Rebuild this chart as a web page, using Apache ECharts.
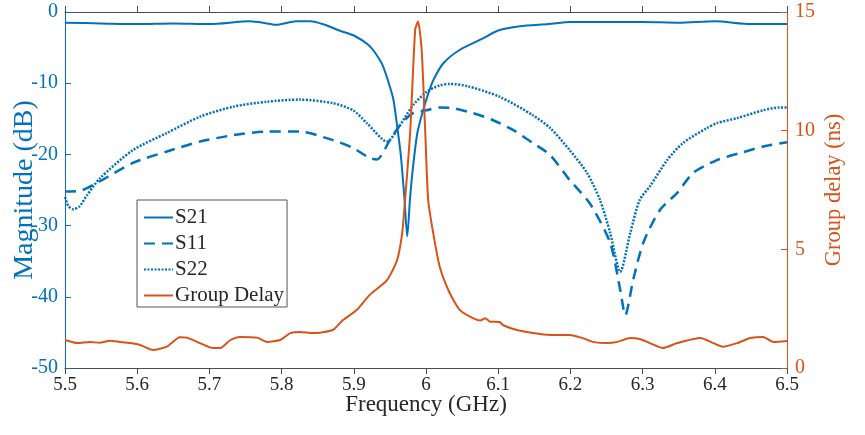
<!DOCTYPE html>
<html>
<head>
<meta charset="utf-8">
<script src="https://cdn.jsdelivr.net/npm/echarts@6/dist/echarts.min.js"></script>
<style>
  html, body { margin: 0; padding: 0; background: #fff; }
  #chart { width: 865px; height: 435px; }
</style>
</head>
<body>
<div id="chart"></div>
<script>
// S21 magnitude (dB)
const s21Freq = [5.50, 5.55, 5.60, 5.65, 5.70, 5.756, 5.78, 5.793, 5.82, 5.84, 5.86, 5.88, 5.90, 5.92, 5.93, 5.94, 5.95, 5.955, 5.96, 5.965, 5.97, 5.974, 5.978, 5.982, 5.988, 5.996, 6.003, 6.010, 6.024, 6.047, 6.079, 6.10, 6.13, 6.17, 6.20, 6.25, 6.30, 6.35, 6.40, 6.45, 6.50];
const s21Mag  = [-1.5, -1.6, -1.7, -1.6, -1.7, -1.3, -1.6, -1.8, -1.3, -1.3, -1.8, -2.6, -3.3, -4.6, -5.8, -7.5, -10.5, -12.4, -16, -20, -26, -31.5, -26, -21.8, -17, -13.8, -11.5, -9.6, -7.2, -5.3, -3.7, -2.6, -2.0, -1.7, -1.4, -1.4, -1.4, -1.5, -1.3, -1.7, -1.7];

// S11 magnitude (dB)
const s11Freq = [5.50, 5.521, 5.548, 5.594, 5.641, 5.687, 5.733, 5.78, 5.825, 5.871, 5.899, 5.922, 5.932, 5.95, 5.964, 5.982, 6.001, 6.019, 6.037, 6.065, 6.093, 6.121, 6.148, 6.172, 6.199, 6.227, 6.255, 6.269, 6.276, 6.287, 6.301, 6.324, 6.348, 6.37, 6.403, 6.439, 6.467, 6.50];
const s11Mag  = [-25.2, -25.1, -23.8, -21.2, -19.6, -18.2, -17.3, -16.8, -16.8, -18.0, -19.1, -20.5, -20.7, -18.0, -15.9, -14.2, -13.8, -13.4, -13.5, -14.2, -15.2, -16.6, -18.4, -20.1, -23.6, -26.9, -32.4, -39.0, -42.6, -37.6, -32.4, -27.8, -25.4, -22.6, -20.8, -19.7, -18.9, -18.3];

// S22 magnitude (dB)
const s22Freq = [5.50, 5.505, 5.512, 5.52, 5.53, 5.548, 5.594, 5.641, 5.687, 5.733, 5.78, 5.825, 5.871, 5.899, 5.918, 5.946, 5.964, 5.982, 6.001, 6.019, 6.033, 6.057, 6.102, 6.148, 6.172, 6.199, 6.223, 6.241, 6.255, 6.269, 6.283, 6.296, 6.31, 6.334, 6.356, 6.389, 6.403, 6.431, 6.467, 6.49, 6.50];
const s22Mag  = [-26.0, -27.3, -27.7, -27.3, -25.8, -23.4, -19.4, -17.0, -14.7, -13.3, -12.6, -12.3, -12.8, -13.8, -15.6, -18.2, -15.9, -13.1, -11.2, -10.3, -10.1, -10.4, -11.9, -14.5, -16.3, -19.4, -22.6, -26.4, -31.0, -36.5, -31.0, -26.4, -24.5, -20.8, -18.4, -16.3, -15.6, -14.9, -13.8, -13.4, -13.4];

// Group delay (ns)
const gdFreq = [5.50, 5.517, 5.535, 5.548, 5.562, 5.576, 5.59, 5.604, 5.622, 5.641, 5.659, 5.669, 5.687, 5.705, 5.715, 5.729, 5.742, 5.766, 5.78, 5.798, 5.812, 5.825, 5.843, 5.871, 5.885, 5.904, 5.922, 5.946, 5.96, 5.967, 5.971, 5.978, 5.985, 5.989, 5.994, 5.999, 6.003, 6.01, 6.019, 6.033, 6.047, 6.065, 6.075, 6.082, 6.089, 6.102, 6.107, 6.126, 6.148, 6.172, 6.199, 6.217, 6.231, 6.251, 6.265, 6.283, 6.296, 6.31, 6.328, 6.348, 6.38, 6.398, 6.411, 6.431, 6.449, 6.467, 6.481, 6.50];
const gdNs   = [1.18, 1.05, 1.10, 1.06, 1.15, 1.10, 1.05, 0.97, 0.76, 0.90, 1.30, 1.28, 1.05, 0.84, 0.84, 1.18, 1.31, 1.28, 1.10, 1.18, 1.47, 1.52, 1.47, 1.60, 2.02, 2.44, 3.08, 3.70, 4.55, 5.68, 7.08, 9.90, 14.26, 14.6, 13.4, 9.90, 7.08, 5.68, 4.27, 3.15, 2.44, 2.10, 2.00, 2.10, 1.95, 1.94, 1.80, 1.60, 1.47, 1.39, 1.39, 1.26, 1.10, 1.05, 1.10, 1.26, 1.22, 1.05, 0.84, 1.05, 1.26, 1.05, 0.90, 1.05, 1.26, 1.31, 1.10, 1.14];

const zip = (xs, ys) => xs.map((x, i) => [x, ys[i]]);

const BLUE = '#0072BD';
const ORANGE = '#D95319';
const DARK = '#262626';
const FONT = 'Liberation Serif';

const chart = echarts.init(document.getElementById('chart'), null, { renderer: 'canvas' });

chart.setOption({
  animation: false,
  backgroundColor: '#fff',
  grid: { left: 65, right: 78, top: 12, bottom: 67, containLabel: false, outerBoundsMode: 'none' },
  legend: {
    orient: 'vertical',
    left: 137,
    top: 200,
    data: ['S21', 'S11', 'S22', 'Group Delay'],
    backgroundColor: '#fff',
    borderColor: '#555',
    borderWidth: 1,
    padding: [7, 3, 1, 6],
    itemGap: 5,
    itemWidth: 29,
    itemHeight: 20,
    itemStyle: { opacity: 0 },
    textStyle: { fontFamily: FONT, fontSize: 21, color: DARK, padding: [0, 0, 0, -3] }
  },
  xAxis: [
    {
      type: 'value', min: 5.5, max: 6.5, interval: 0.1,
      name: 'Frequency (GHz)', nameLocation: 'middle', nameGap: 25, nameMoveOverlap: false,
      nameTextStyle: { fontFamily: FONT, fontSize: 23, color: DARK },
      axisLine: { lineStyle: { color: '#4d4d4d', width: 1 } },
      axisTick: { inside: true, length: 6, lineStyle: { color: '#4d4d4d' } },
      axisLabel: { fontFamily: FONT, fontSize: 19, color: DARK, margin: 8,
        formatter: v => String(Math.round(v * 10) / 10) },
      splitLine: { show: false }
    },
    {
      type: 'value', min: 5.5, max: 6.5, interval: 0.1, position: 'top',
      axisLine: { lineStyle: { color: '#4d4d4d', width: 1 } },
      axisTick: { inside: true, length: 6, lineStyle: { color: '#4d4d4d' } },
      axisLabel: { show: false },
      splitLine: { show: false }
    }
  ],
  yAxis: [
    {
      type: 'value', min: -50, max: 0, interval: 10, position: 'left',
      name: 'Magnitude (dB)', nameLocation: 'middle', nameGap: 26, nameMoveOverlap: false,
      nameTextStyle: { fontFamily: FONT, fontSize: 28, color: BLUE },
      axisLine: { show: true, lineStyle: { color: BLUE, width: 1 } },
      axisTick: { inside: true, length: 6, lineStyle: { color: BLUE } },
      axisLabel: { fontFamily: FONT, fontSize: 20, color: BLUE, margin: 7 },
      splitLine: { show: false }
    },
    {
      type: 'value', min: 0, max: 15, interval: 5, position: 'right',
      name: 'Group delay (ns)', nameLocation: 'middle', nameGap: 36, nameMoveOverlap: false,
      nameTextStyle: { fontFamily: FONT, fontSize: 22.5, color: ORANGE },
      axisLine: { show: true, lineStyle: { color: ORANGE, width: 1 } },
      axisTick: { inside: true, length: 6, lineStyle: { color: ORANGE } },
      axisLabel: { fontFamily: FONT, fontSize: 20, color: ORANGE, margin: 8 },
      splitLine: { show: false }
    }
  ],
  series: [
    {
      name: 'S21', type: 'line', yAxisIndex: 0, showSymbol: false, symbol: 'none',
      smooth: 0.25, data: zip(s21Freq, s21Mag),
      color: BLUE, lineStyle: { color: BLUE, width: 2 }
    },
    {
      name: 'S11', type: 'line', yAxisIndex: 0, showSymbol: false, symbol: 'none',
      smooth: 0.25, data: zip(s11Freq, s11Mag),
      color: BLUE, lineStyle: { color: BLUE, width: 2.5, type: [11, 7] }
    },
    {
      name: 'S22', type: 'line', yAxisIndex: 0, showSymbol: false, symbol: 'none',
      smooth: 0.25, data: zip(s22Freq, s22Mag),
      color: BLUE, lineStyle: { color: BLUE, width: 2.5, type: [2, 1.5] }
    },
    {
      name: 'Group Delay', type: 'line', yAxisIndex: 1, showSymbol: false, symbol: 'none',
      smooth: 0.2, data: zip(gdFreq, gdNs),
      color: ORANGE, lineStyle: { color: ORANGE, width: 2 }
    }
  ]
});
</script>
</body>
</html>
